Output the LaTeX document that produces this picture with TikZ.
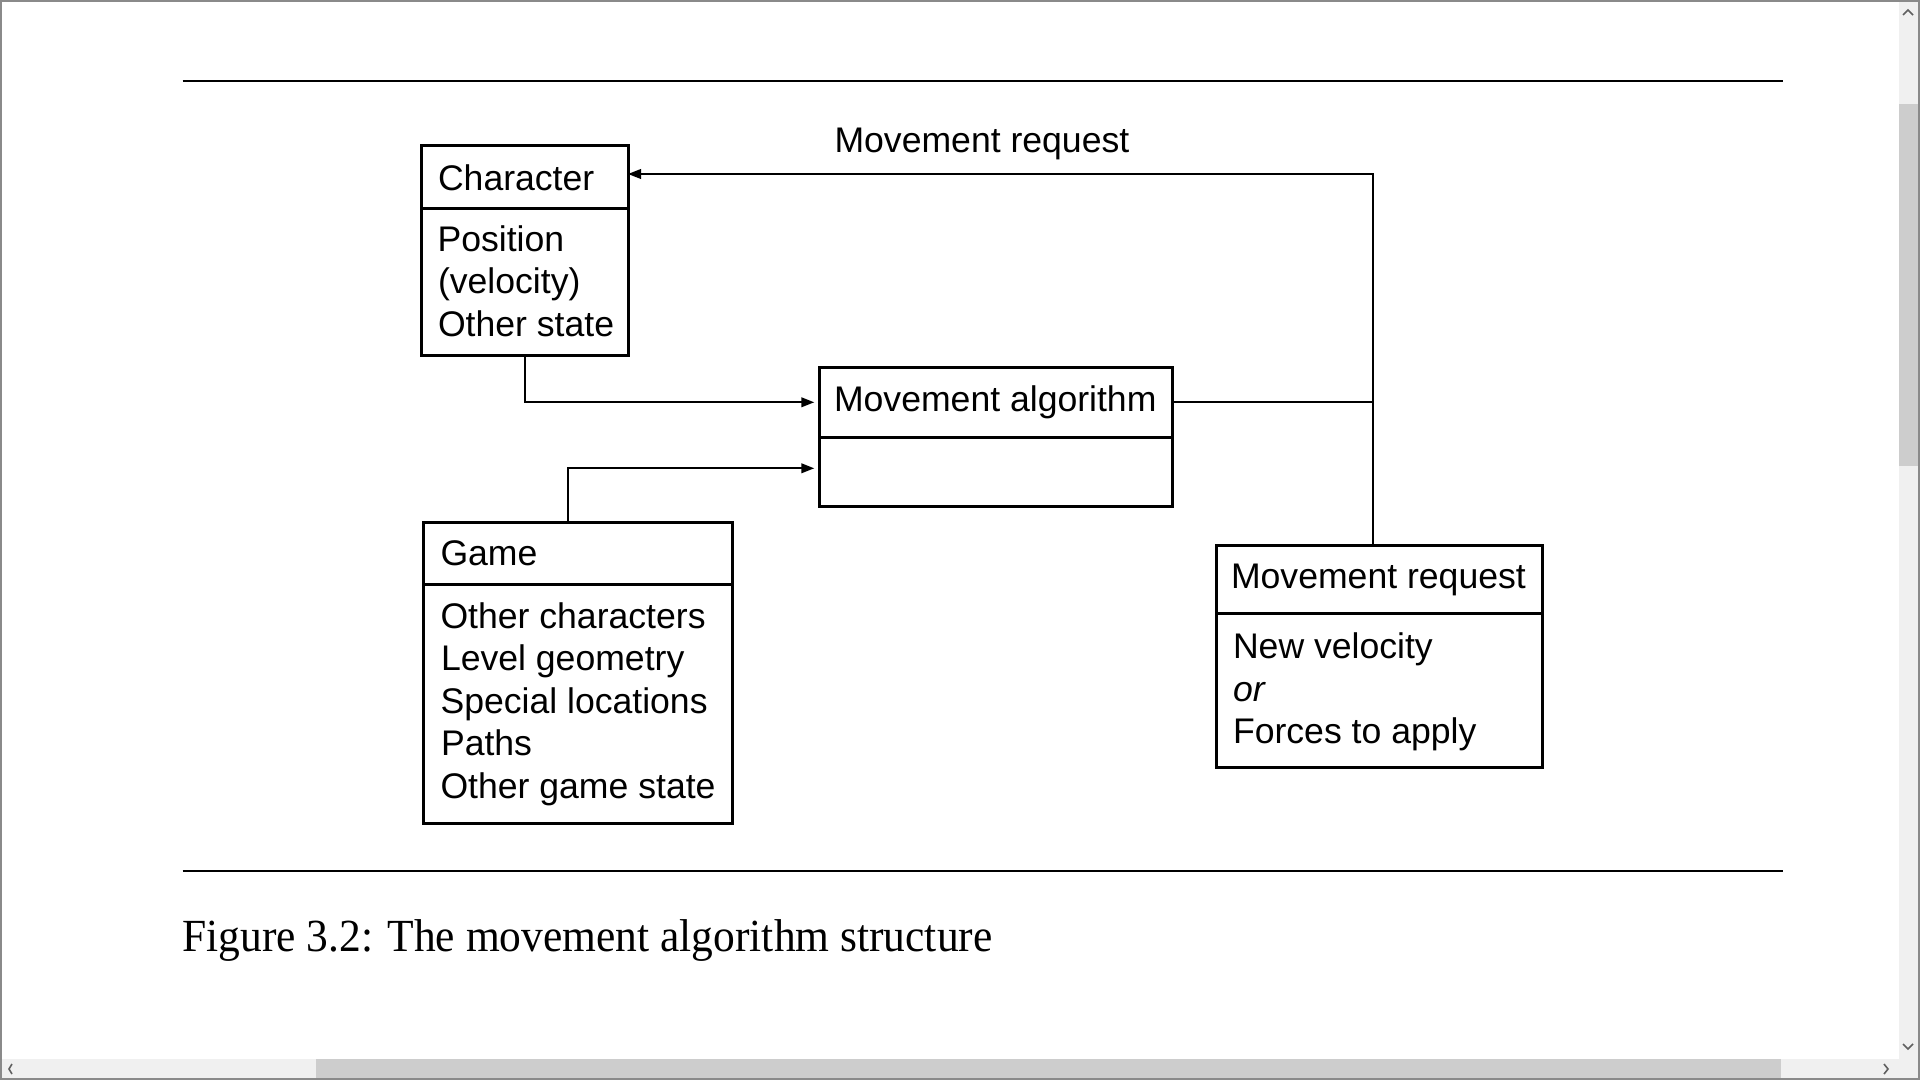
\documentclass[tikz,border=0pt]{standalone}
\usepackage{fontspec}
\setmainfont{Liberation Serif}
\setsansfont{Liberation Sans}
\usetikzlibrary{arrows.meta,calc}
\definecolor{sbtrack}{HTML}{F0F0F0}
\definecolor{sbthumb}{HTML}{CDCDCD}
\definecolor{sbarrow}{HTML}{606060}
\definecolor{winborder}{HTML}{8A8A8A}
\begin{document}
\begin{tikzpicture}[x=0.5pt,y=-0.5pt,
  boxpart/.style={draw, line width=1.5pt, inner sep=0pt, outer sep=0pt, anchor=north west},
  lbl/.style={anchor=base west, inner sep=0pt, outer sep=0pt, font=\sffamily\fontsize{17.8pt}{21pt}\selectfont},
  conn/.style={line width=1pt},
  arr/.style={conn, -{Triangle[length=6.5pt,width=4.8pt]}},
  rulestyle/.style={line width=1pt},
  chev/.style={draw=sbarrow, line width=0.8pt}]
\fill[white] (0,0) rectangle (1920,1080);
\useasboundingbox (0,0) rectangle (1920,1080);

% scrollbars
\fill[sbtrack] (1899,0) rectangle (1918,1080);
\fill[sbtrack] (0,1059) rectangle (1918,1078);
\fill[sbthumb] (1899,104) rectangle (1918,466);
\fill[sbthumb] (316,1059) rectangle (1781,1078);
\draw[chev] (1903,15) -- (1908,10) -- (1913,15);
\draw[chev] (1903,1044) -- (1908,1049) -- (1913,1044);
\draw[chev] (12,1064) -- (9,1069) -- (12,1074);
\draw[chev] (1884,1064) -- (1888,1069) -- (1884,1074);
\draw[winborder, line width=1pt] (1,1) rectangle (1919,1079);

% rules
\draw[rulestyle] (182.5,81) -- (1783,81);
\draw[rulestyle] (182.5,870.5) -- (1783,870.5);

% Character
\node[boxpart, minimum width=103.25pt, minimum height=31.25pt] (charT) at (421.5,146) {};
\node[boxpart, minimum width=103.25pt, minimum height=73.75pt] (charB) at (421.5,208.5) {};
\node[lbl] (t1) at (438,191) {Character};
\node[lbl] (t2) at (437.5,251.7) {Position};
\node[lbl] (t3) at (438,293.8) {(velocity)};
\node[lbl] (t4) at (438,336) {Other state};

% Movement algorithm
\node[boxpart, minimum width=176.6pt, minimum height=35pt] (algT) at (819.3,367.3) {};
\node[boxpart, minimum width=176.6pt, minimum height=34.35pt] (algB) at (819.3,437.3) {};
\node[lbl] (t5) at (834,411.7) {Movement algorithm};

% Game
\node[boxpart, minimum width=154.5pt, minimum height=30.75pt] (gameT) at (423.5,522.5) {};
\node[boxpart, minimum width=154.5pt, minimum height=119.75pt] (gameB) at (423.5,584) {};
\node[lbl] (g0) at (440.5,565) {Game};
\node[lbl] (g1) at (440.5,628.3) {Other characters};
\node[lbl] (g2) at (441,670.8) {Level geometry};
\node[lbl] (g3) at (440.5,713.3) {Special locations};
\node[lbl] (g4) at (441,755.8) {Paths};
\node[lbl] (g5) at (440.5,798.3) {Other game state};

% Movement request box
\node[boxpart, minimum width=163pt, minimum height=34.15pt] (mrT) at (1216.7,545) {};
\node[boxpart, minimum width=163pt, minimum height=77pt] (mrB) at (1216.7,613.3) {};
\node[lbl] (m0) at (1231,588.3) {Movement request};
\node[lbl] (m1) at (1233,658.3) {New velocity};
\node[lbl] (m2) at (1233,701) {\itshape or};
\node[lbl] (m3) at (1233,743.5) {Forces to apply};

% top label
\node[lbl] (req) at (834.5,152.3) {Movement request};

% connectors
\coordinate (vx) at (1373.3,174);
\coordinate (gx) at (568.3,468.3);
\draw[arr] (mrT.north -| vx) -- (vx) -- (vx -| charT.east);
\draw[conn] (algT.east) -- (algT.east -| vx);
\draw[arr, shorten >=2.5pt] (charB.south) |- (algT.west);
\draw[arr, shorten >=2.5pt] (gameT.north -| gx) -- (gx) -- (gx -| algB.west);

% caption
\node[anchor=base west, inner sep=0pt] (cap) at (182,951.7)
  {\scalebox{0.945}[1]{\fontsize{23pt}{27pt}\selectfont Figure 3.2: The movement algorithm structure}};
\end{tikzpicture}
\end{document}
